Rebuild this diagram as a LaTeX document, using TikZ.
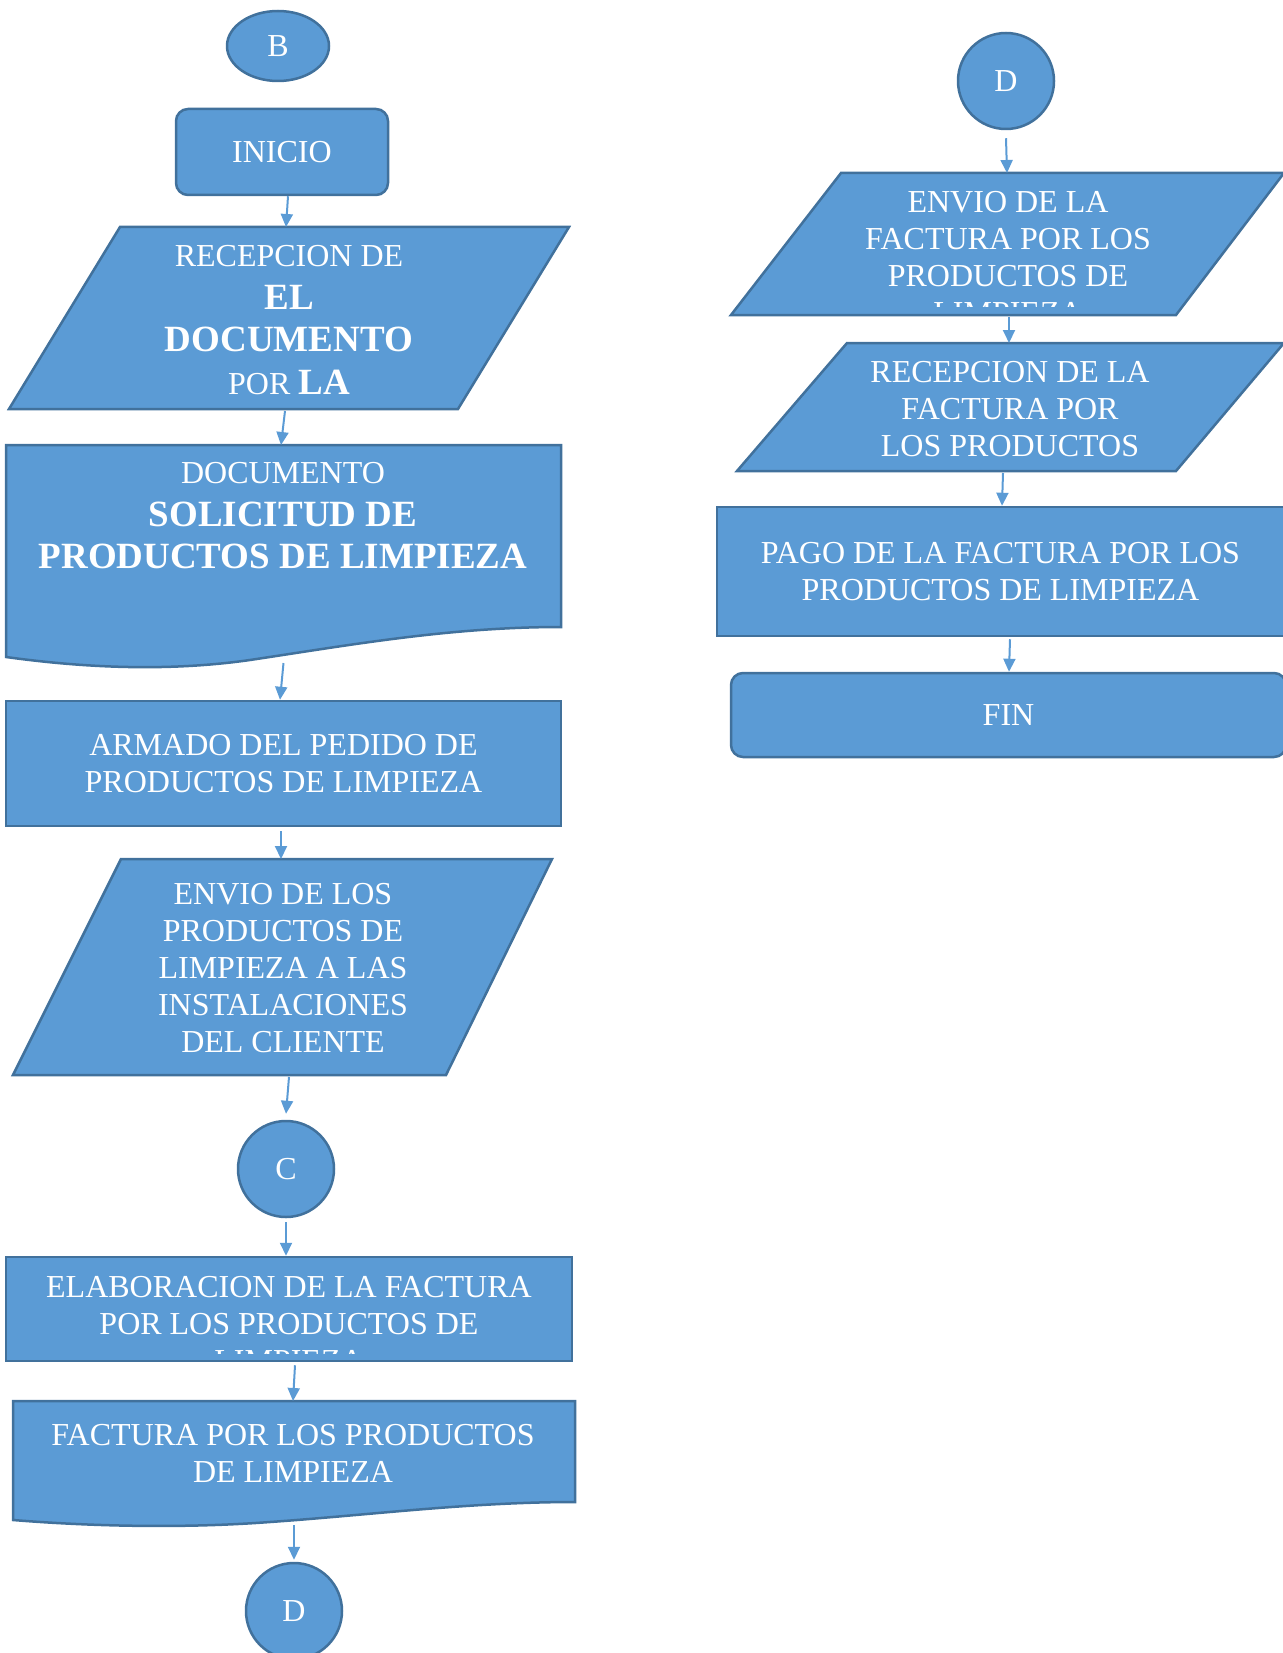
\documentclass[tikz,border=0pt]{standalone}
\usepackage{fontspec}
\setmainfont{Liberation Serif}
\usetikzlibrary{shapes.geometric,arrows.meta}
\definecolor{fillb}{HTML}{5B9BD5}
\definecolor{edgeb}{HTML}{41719C}
\newcommand\bldtxt[1]{{\fontsize{37}{42}\selectfont\bfseries #1}}
\begin{document}
\begin{tikzpicture}[x=1pt,y=-1pt,
  shp/.style={fill=fillb,draw=edgeb,line width=2.5pt},
  bb/.style={draw=none,inner sep=0pt,outer sep=0pt,rectangle},
  txt/.style={text=white,align=center,font=\fontsize{32}{37}\selectfont,inner sep=0pt},
  arr/.style={draw=fillb,line width=2pt,-{Triangle[length=13pt,width=12pt]}},
]
\useasboundingbox (0,0) rectangle (1282,1653);

% ---------- left column ----------
\node[shp,ellipse,minimum width=102pt,minimum height=70pt,inner sep=0pt,txt] (b) at (278,46) {B};

\node[shp,rectangle,rounded corners=12pt,minimum width=212pt,minimum height=86pt,txt] (inicio) at (282,152) {INICIO};

\node[bb,minimum width=560pt,minimum height=182pt] (recep) at (289,318) {};
\draw[shp] ([xshift=111pt]recep.north west) -- (recep.north east) -- ([xshift=-111pt]recep.south east) -- (recep.south west) -- cycle;
\node[txt,font=\fontsize{32}{42.5}\selectfont] (recept) at (289,320) {RECEPCION DE\\ \bldtxt{EL}\\ \bldtxt{DOCUMENTO}\\ POR \bldtxt{LA}};

\node[bb,minimum width=555pt,minimum height=223pt] (doc) at (283.5,556.5) {};
\draw[shp] (doc.north west) -- (doc.north east) -- (561,627)
  .. controls (450,627) and (350,645) .. (250,660)
  .. controls (180,670) and (100,670) .. (6,657) -- cycle;
\node[txt,font=\fontsize{32}{42.5}\selectfont] (doct) at (283,516) {DOCUMENTO\\ \bldtxt{SOLICITUD DE}\\ \bldtxt{PRODUCTOS DE LIMPIEZA}};

\node[shp,rectangle,minimum width=555pt,minimum height=125pt,txt] (armado) at (283.5,763.5) {ARMADO DEL PEDIDO DE\\PRODUCTOS DE LIMPIEZA};

\node[bb,minimum width=539pt,minimum height=216pt] (envio) at (282.5,967) {};
\draw[shp] ([xshift=108pt]envio.north west) -- (envio.north east) -- ([xshift=-106pt]envio.south east) -- (envio.south west) -- cycle;
\node[txt] (enviot) at (283,968) {ENVIO DE LOS\\PRODUCTOS DE\\LIMPIEZA A LAS\\INSTALACIONES\\DEL CLIENTE};

\node[shp,circle,minimum size=96pt,inner sep=0pt,txt] (c) at (286,1169) {C};

\node[shp,rectangle,minimum width=566pt,minimum height=104pt] (elab) at (289,1309) {};
\begin{scope}
\clip (6,1257) rectangle (572,1353);
\node[txt] (elabt) at (289,1324) {ELABORACION DE LA FACTURA\\POR LOS PRODUCTOS DE\\LIMPIEZA};
\end{scope}

\node[bb,minimum width=562pt,minimum height=125pt] (fact) at (294,1463.5) {};
\draw[shp] (fact.north west) -- (fact.north east) -- (575,1502)
  .. controls (470,1502) and (370,1515) .. (270,1522)
  .. controls (190,1528) and (100,1527) .. (13,1520) -- cycle;
\node[txt] (factt) at (293,1453.5) {FACTURA POR LOS PRODUCTOS\\DE LIMPIEZA};

\node[shp,circle,minimum size=96pt,inner sep=0pt,txt] (dbot) at (294,1611) {D};

% ---------- right column ----------
\node[shp,circle,minimum size=96pt,inner sep=0pt,txt] (dtop) at (1006,81) {D};

\node[bb,minimum width=553pt,minimum height=142pt] (envf) at (1007.5,244) {};
\draw[shp] ([xshift=110pt]envf.north west) -- (envf.north east) -- ([xshift=-108pt]envf.south east) -- (envf.south west) -- cycle;
\begin{scope}
\clip (731,173) rectangle (1284,306);
\node[txt] (envft) at (1008,257.5) {ENVIO DE LA\\FACTURA POR LOS\\PRODUCTOS DE\\LIMPIEZA};
\end{scope}

\node[bb,minimum width=547pt,minimum height=128pt] (recf) at (1010.5,407) {};
\draw[shp] ([xshift=110pt]recf.north west) -- (recf.north east) -- ([xshift=-108pt]recf.south east) -- (recf.south west) -- cycle;
\node[txt] (recft) at (1010,409) {RECEPCION DE LA\\FACTURA POR\\LOS PRODUCTOS};

\node[shp,rectangle,minimum width=567pt,minimum height=129pt,txt] (pago) at (1000.5,571.5) {PAGO DE LA FACTURA POR LOS\\PRODUCTOS DE LIMPIEZA};

\node[shp,rectangle,rounded corners=12pt,minimum width=555pt,minimum height=84pt,txt] (fin) at (1008.5,715) {FIN};

% ---------- connectors ----------
\draw[arr] ([xshift=6pt]inicio.south) -- ([xshift=-3pt]recep.north);
\draw[arr] ([xshift=-4pt,yshift=-2pt]recep.south) -- ([xshift=-2.5pt]doc.north);
\draw[arr] ([yshift=5pt]doc.south) -- ([xshift=-3.5pt]armado.north);
\draw[arr] ([xshift=-2.5pt,yshift=-4pt]armado.south) -- ([xshift=-1.5pt]envio.north);
\draw[arr] ([xshift=6.5pt,yshift=-2pt]envio.south) -- ([yshift=6pt]c.north);
\draw[arr] ([yshift=-4pt]c.south) -- ([xshift=-3pt]elab.north);
\draw[arr] ([xshift=6pt,yshift=-3pt]elab.south) -- ([xshift=-1pt]fact.north);
\draw[arr] ([yshift=1pt]fact.south) -- ([yshift=2pt]dbot.north);
\draw[arr] ([yshift=-8pt]dtop.south) -- ([xshift=-0.5pt]envf.north);
\draw[arr] ([xshift=1.5pt,yshift=-2pt]envf.south) -- ([xshift=-1.5pt]recf.north);
\draw[arr] ([xshift=-7.5pt,yshift=-2pt]recf.south) -- ([xshift=1.5pt]pago.north);
\draw[arr] ([xshift=9.5pt,yshift=-2pt]pago.south) -- ([xshift=0.5pt]fin.north);
\end{tikzpicture}
\end{document}
